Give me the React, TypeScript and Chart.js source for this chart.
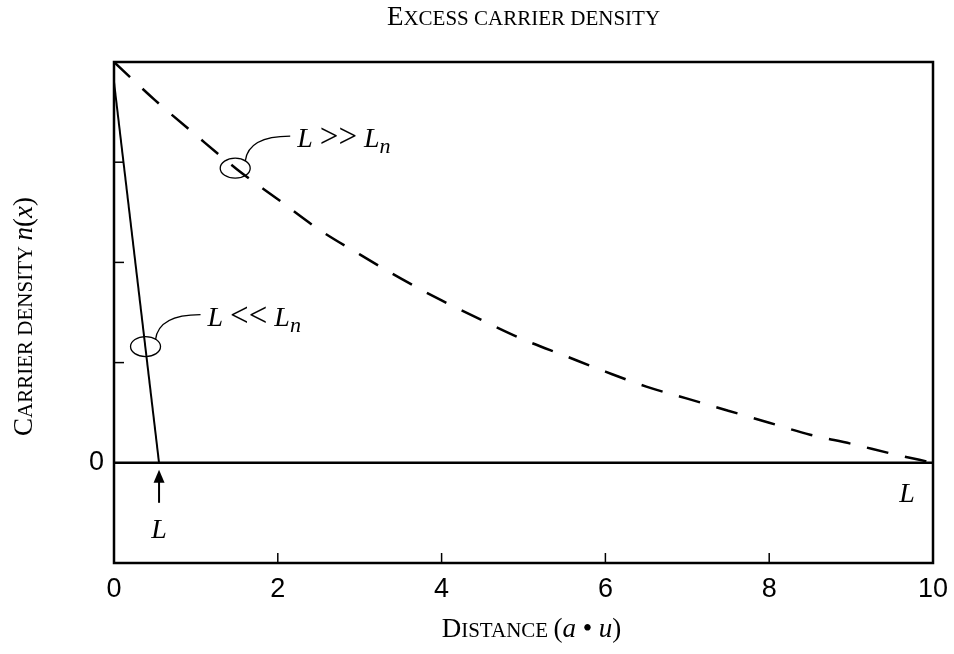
import React, { useEffect, useRef } from 'react';
import { Chart, registerables } from 'chart.js';

Chart.register(...registerables);

// ---- data ----
const distance = [0, 0.5, 1, 1.5, 2, 2.5, 3, 3.5, 4, 4.5, 5, 5.5, 6, 6.5, 7, 7.5, 8, 8.5, 9, 9.5, 10];
const densityLongLn = [4.0, 3.62, 3.27, 2.93, 2.63, 2.33, 2.08, 1.84, 1.62, 1.42, 1.23, 1.07, 0.91, 0.76, 0.64, 0.52, 0.4, 0.28, 0.19, 0.09, 0];
const distanceShortLn = [0, 0.55];
const densityShortLn = [3.8, 0];
const baselineDistance = [0, 10];
const baselineDensity = [0, 0];
const xTickStep = 2;
const yLabelledTicks = [0];
const xInnerMarks = [2, 4, 6, 8];
const yInnerMarks = [1, 2, 3];

// annotation anchors (data coordinates)
const longLnMarker = { x: 1.48, y: 2.94 };
const shortLnMarker = { x: 0.385, y: 1.16 };
const sampleEndShort = 0.55;
const sampleEndLong = 10;

const SERIF = '"Liberation Serif", "Times New Roman", serif';
const SANS = '"Liberation Sans", Arial, sans-serif';

type Run = { t: string; size: number; italic?: boolean; dy?: number };

function runFont(r: Run) {
  return `${r.italic ? 'italic ' : ''}${r.size}px ${SERIF}`;
}

function drawRuns(ctx: CanvasRenderingContext2D, runs: Run[], x: number, y: number, align: 'left' | 'center') {
  let w = 0;
  for (const r of runs) {
    ctx.font = runFont(r);
    w += ctx.measureText(r.t).width;
  }
  let cx = align === 'center' ? x - w / 2 : x;
  ctx.textAlign = 'left';
  ctx.textBaseline = 'alphabetic';
  for (const r of runs) {
    ctx.font = runFont(r);
    ctx.fillText(r.t, cx, y + (r.dy || 0));
    cx += ctx.measureText(r.t).width;
  }
}

const BIG = 27;
const SMALL = 21;
const ANN = 28;

function smallCaps(first: string, rest: string): Run[] {
  return [
    { t: first, size: BIG },
    { t: rest.toUpperCase(), size: SMALL },
  ];
}

const decorPlugin = {
  id: 'decor',
  afterDatasetsDraw(chart: any) {
    const { ctx, chartArea: a, scales } = chart;
    const xs = scales.x;
    const ys = scales.y;
    ctx.save();
    ctx.strokeStyle = '#000';
    ctx.fillStyle = '#000';

    // frame
    ctx.lineWidth = 2.5;
    ctx.strokeRect(a.left, a.top, a.right - a.left, a.bottom - a.top);

    // inner tick marks
    ctx.lineWidth = 1.5;
    for (const v of xInnerMarks) {
      const px = xs.getPixelForValue(v);
      ctx.beginPath();
      ctx.moveTo(px, a.bottom);
      ctx.lineTo(px, a.bottom - 10);
      ctx.stroke();
    }
    for (const v of yInnerMarks) {
      const py = ys.getPixelForValue(v);
      ctx.beginPath();
      ctx.moveTo(a.left, py);
      ctx.lineTo(a.left + 10, py);
      ctx.stroke();
    }

    // markers with leaders and labels
    const marker = (m: { x: number; y: number }, op: string) => {
      const cx = xs.getPixelForValue(m.x);
      const cy = ys.getPixelForValue(m.y);
      ctx.lineWidth = 1.3;
      ctx.beginPath();
      ctx.ellipse(cx, cy, 15, 10, 0, 0, Math.PI * 2);
      ctx.stroke();
      ctx.beginPath();
      ctx.moveTo(cx + 10, cy - 7);
      ctx.quadraticCurveTo(cx + 13, cy - 32, cx + 55, cy - 32);
      ctx.stroke();
      drawRuns(
        ctx,
        [
          { t: 'L', size: ANN, italic: true },
          { t: ' ', size: ANN },
          { t: op, size: 33 },
          { t: ' ', size: ANN },
          { t: 'L', size: ANN, italic: true },
          { t: 'n', size: 22, italic: true, dy: 6 },
        ],
        cx + 62,
        cy - 21,
        'left'
      );
    };
    marker(longLnMarker, '>>');
    marker(shortLnMarker, '<<');

    // arrow pointing to the sample end (short case)
    const ax = xs.getPixelForValue(sampleEndShort);
    const ay = ys.getPixelForValue(0);
    ctx.lineWidth = 2;
    ctx.beginPath();
    ctx.moveTo(ax, ay + 14);
    ctx.lineTo(ax, ay + 40);
    ctx.stroke();
    ctx.beginPath();
    ctx.moveTo(ax, ay + 7);
    ctx.lineTo(ax - 5.5, ay + 20);
    ctx.lineTo(ax + 5.5, ay + 20);
    ctx.closePath();
    ctx.fill();
    drawRuns(ctx, [{ t: 'L', size: ANN, italic: true }], ax, ay + 75, 'center');

    // L at right end
    const rx = xs.getPixelForValue(sampleEndLong);
    drawRuns(ctx, [{ t: 'L', size: ANN, italic: true }], rx - 26, ay + 39, 'center');

    // titles
    const midX = (a.left + a.right) / 2;
    drawRuns(ctx, [...smallCaps('E', 'xcess carrier density')], midX, 25, 'center');
    drawRuns(
      ctx,
      [
        ...smallCaps('D', 'istance '),
        { t: '(', size: BIG },
        { t: 'a', size: BIG, italic: true },
        { t: ' \u2022 ', size: BIG },
        { t: 'u', size: BIG, italic: true },
        { t: ')', size: BIG },
      ],
      midX + 8,
      637,
      'center'
    );
    ctx.save();
    ctx.translate(32, (a.top + a.bottom) / 2 + 4);
    ctx.rotate(-Math.PI / 2);
    drawRuns(
      ctx,
      [
        ...smallCaps('C', 'arrier density '),
        { t: 'n', size: BIG, italic: true },
        { t: '(', size: BIG },
        { t: 'x', size: BIG, italic: true },
        { t: ')', size: BIG },
      ],
      0,
      0,
      'center'
    );
    ctx.restore();

    ctx.restore();
  },
};

export default function App() {
  const ref = useRef<HTMLCanvasElement | null>(null);

  useEffect(() => {
    if (!ref.current) return;
    const chart = new Chart(ref.current, {
      type: 'line',
      data: {
        datasets: [
          {
            label: 'L >> Ln',
            data: distance.map((d, i) => ({ x: d, y: densityLongLn[i] })),
            borderColor: '#000',
            borderWidth: 2.5,
            borderDash: [22, 17],
            pointRadius: 0,
            cubicInterpolationMode: 'monotone',
            fill: false,
          },
          {
            label: 'L << Ln',
            data: distanceShortLn.map((d, i) => ({ x: d, y: densityShortLn[i] })),
            borderColor: '#000',
            borderWidth: 2,
            pointRadius: 0,
            fill: false,
          },
          {
            label: 'zero',
            data: baselineDistance.map((d, i) => ({ x: d, y: baselineDensity[i] })),
            borderColor: '#000',
            borderWidth: 2.5,
            pointRadius: 0,
            fill: false,
          },
        ],
      },
      options: {
        responsive: false,
        animation: false,
        devicePixelRatio: 1,
        layout: { padding: { left: 0, right: 21, top: 62, bottom: 0 } },
        plugins: {
          legend: { display: false },
          tooltip: { enabled: false },
          title: { display: false },
        },
        scales: {
          x: {
            type: 'linear',
            min: 0,
            max: 10,
            grid: { display: false, drawTicks: false },
            border: { display: false },
            ticks: {
              stepSize: xTickStep,
              color: '#000',
              padding: 10,
              maxRotation: 0,
              font: { family: SANS, size: 27 },
              callback: (v: any) => String(v),
            },
            afterFit: (s: any) => {
              s.height = 91;
              s.paddingLeft = 0;
              s.paddingRight = 0;
            },
          },
          y: {
            type: 'linear',
            min: -1,
            max: 4,
            grid: { display: false, drawTicks: false },
            border: { display: false },
            ticks: {
              stepSize: 1,
              color: '#000',
              padding: 10,
              font: { family: SANS, size: 27 },
              callback: (v: any) => (yLabelledTicks.includes(Number(v)) ? String(v) : ''),
            },
            afterFit: (s: any) => {
              s.width = 114;
              s.paddingTop = 0;
              s.paddingBottom = 0;
            },
          },
        },
      },
      plugins: [decorPlugin],
    } as any);
    return () => chart.destroy();
  }, []);

  return (
    <div style={{ position: 'fixed', left: 0, top: 0, width: 954, height: 654, background: '#fff' }}>
      <canvas ref={ref} width={954} height={654} style={{ width: 954, height: 654 }} />
    </div>
  );
}
